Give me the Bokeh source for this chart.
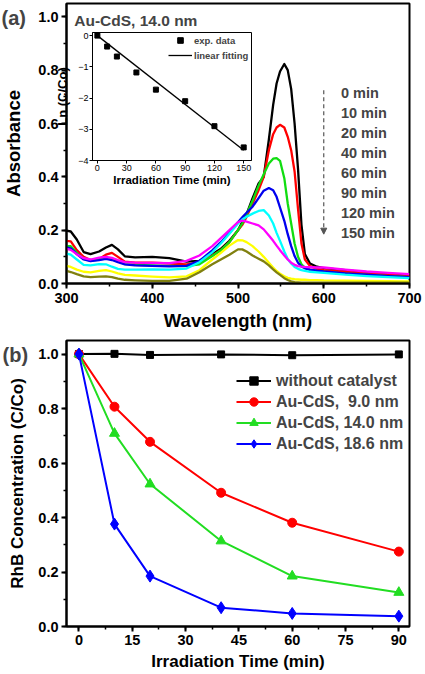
import numpy as np
from bokeh.plotting import figure
from bokeh.layouts import column
from bokeh.models import (Range1d, Label, Arrow, NormalHead, Legend, LegendItem,
                          SingleIntervalTicker, PrintfTickFormatter)
from bokeh.embed import file_html
from bokeh.resources import INLINE

FONT = "Liberation Sans"

# ---------------- (a) absorption spectra of RhB, Au-CdS 14.0 nm ----------------
wavelength = [300, 305, 312, 320, 328, 338, 346, 353, 360, 368, 380, 400, 420, 440,
              455, 470, 480, 490, 500, 505, 510, 517, 524, 530, 536, 541, 545, 549,
              554, 558, 562, 566, 570, 574, 578, 584, 592, 600, 625, 650, 675, 700]

abs_0min = [0.198, 0.195, 0.165, 0.118, 0.110, 0.120, 0.135, 0.145, 0.128, 0.102, 0.098,
            0.100, 0.095, 0.082, 0.085, 0.110, 0.130, 0.160, 0.200, 0.230, 0.260, 0.320,
            0.375, 0.400, 0.540, 0.670, 0.750, 0.795, 0.823, 0.800, 0.730, 0.600, 0.430,
            0.220, 0.110, 0.075, 0.063, 0.058, 0.050, 0.042, 0.035, 0.028]
abs_10min = [0.160, 0.158, 0.125, 0.100, 0.088, 0.092, 0.108, 0.115, 0.100, 0.082, 0.078,
             0.078, 0.075, 0.072, 0.078, 0.105, 0.125, 0.155, 0.200, 0.220, 0.250, 0.300,
             0.350, 0.400, 0.500, 0.560, 0.585, 0.595, 0.585, 0.550, 0.500, 0.420, 0.280,
             0.150, 0.090, 0.065, 0.055, 0.050, 0.044, 0.038, 0.033, 0.028]
abs_20min = [0.140, 0.140, 0.115, 0.092, 0.086, 0.090, 0.095, 0.092, 0.085, 0.073, 0.070,
             0.068, 0.066, 0.065, 0.072, 0.103, 0.125, 0.155, 0.200, 0.225, 0.260, 0.310,
             0.367, 0.410, 0.450, 0.468, 0.470, 0.460, 0.395, 0.300, 0.225, 0.150, 0.100,
             0.072, 0.060, 0.052, 0.047, 0.044, 0.037, 0.032, 0.028, 0.024]
abs_40min = [0.135, 0.132, 0.110, 0.090, 0.084, 0.088, 0.092, 0.088, 0.080, 0.072, 0.068,
             0.066, 0.064, 0.066, 0.085, 0.124, 0.155, 0.190, 0.230, 0.248, 0.265, 0.288,
             0.320, 0.348, 0.358, 0.350, 0.325, 0.285, 0.235, 0.185, 0.140, 0.103, 0.078,
             0.064, 0.057, 0.052, 0.048, 0.045, 0.038, 0.033, 0.028, 0.024]
abs_60min = [0.112, 0.108, 0.090, 0.070, 0.068, 0.073, 0.072, 0.063, 0.055, 0.052, 0.052,
             0.053, 0.052, 0.056, 0.080, 0.117, 0.150, 0.187, 0.225, 0.240, 0.250, 0.262,
             0.272, 0.275, 0.255, 0.225, 0.190, 0.160, 0.120, 0.092, 0.075, 0.062, 0.055,
             0.050, 0.047, 0.044, 0.042, 0.040, 0.033, 0.028, 0.024, 0.020]
abs_90min = [0.130, 0.126, 0.110, 0.095, 0.090, 0.097, 0.100, 0.096, 0.088, 0.080, 0.078,
             0.077, 0.076, 0.085, 0.105, 0.140, 0.170, 0.200, 0.230, 0.236, 0.232, 0.225,
             0.218, 0.203, 0.180, 0.160, 0.142, 0.125, 0.105, 0.090, 0.078, 0.070, 0.065,
             0.063, 0.062, 0.061, 0.060, 0.060, 0.052, 0.045, 0.040, 0.035]
abs_120min = [0.066, 0.062, 0.052, 0.044, 0.042, 0.047, 0.050, 0.045, 0.038, 0.032, 0.030,
              0.026, 0.023, 0.027, 0.050, 0.090, 0.115, 0.142, 0.163, 0.162, 0.155, 0.140,
              0.120, 0.100, 0.078, 0.060, 0.047, 0.037, 0.027, 0.021, 0.018, 0.016, 0.015,
              0.014, 0.014, 0.013, 0.013, 0.012, 0.011, 0.010, 0.009, 0.008]
abs_150min = [0.047, 0.043, 0.035, 0.027, 0.024, 0.026, 0.027, 0.024, 0.018, 0.014, 0.012,
              0.010, 0.010, 0.018, 0.042, 0.072, 0.090, 0.108, 0.128, 0.128, 0.120, 0.105,
              0.093, 0.083, 0.068, 0.053, 0.042, 0.032, 0.020, 0.013, 0.008, 0.005, 0.004,
              0.003, 0.003, 0.003, 0.003, 0.003, 0.003, 0.003, 0.003, 0.003]

spectra = [abs_0min, abs_10min, abs_20min, abs_40min,
           abs_60min, abs_90min, abs_120min, abs_150min]
time_labels = ["0 min", "10 min", "20 min", "40 min",
               "60 min", "90 min", "120 min", "150 min"]
spectra_colors = ["#000000", "#ff0000", "#11dd11", "#0000ee",
                  "#00ffff", "#ff00ff", "#ffff00", "#808010"]

# inset: first-order kinetics
inset_time = [0, 10, 20, 40, 60, 90, 120, 150]
inset_ln = [0.0, -0.35, -0.67, -1.18, -1.73, -2.10, -2.90, -3.58]

# ---------------- (b) degradation of RhB ----------------
irr_time = [0, 10, 20, 40, 60, 90]
c_blank = [1.0, 1.001, 0.997, 0.999, 0.996, 0.999]
c_90nm = [1.0, 0.807, 0.678, 0.491, 0.381, 0.275]
c_140nm = [1.0, 0.709, 0.523, 0.314, 0.185, 0.125]
c_186nm = [1.0, 0.376, 0.185, 0.069, 0.048, 0.038]
series_labels = ["without catalyst", "Au-CdS,  9.0 nm", "Au-CdS, 14.0 nm", "Au-CdS, 18.6 nm"]
series_colors = ["#000000", "#ff0000", "#22dd22", "#0000ff"]
series_markers = ["square", "circle", "triangle", "diamond"]
series_sizes = [7, 9, 10, 12]


def style_axes(p, tick_px, label_px):
    for ax in p.axis:
        ax.axis_line_width = 2
        ax.major_tick_line_width = 2
        ax.minor_tick_line_width = 1.5
        ax.major_tick_out = 5
        ax.major_tick_in = 0
        ax.minor_tick_out = 3
        ax.minor_tick_in = 0
        ax.major_label_text_font = FONT
        ax.major_label_text_font_style = "bold"
        ax.major_label_text_font_size = f"{tick_px}px"
        ax.major_label_text_color = "black"
        ax.axis_label_text_font = FONT
        ax.axis_label_text_font_style = "bold"
        ax.axis_label_text_font_size = f"{label_px}px"
        ax.axis_label_text_color = "black"
    p.yaxis.formatter = PrintfTickFormatter(format="%.1f")
    p.outline_line_color = "black"
    p.outline_line_width = 2
    p.grid.visible = False


def panel_tag(text, left, top):
    """Small transparent canvas holding a panel letter, placed over the page."""
    t = figure(width=34, height=26, x_range=Range1d(0, 1), y_range=Range1d(0, 1),
               output_backend="svg", toolbar_location=None, min_border=0,
               x_axis_location=None, y_axis_location=None,
               background_fill_alpha=0, border_fill_alpha=0, outline_line_color=None,
               styles={"position": "absolute", "left": f"{left}px", "top": f"{top}px"})
    t.grid.visible = False
    t.add_layout(Label(x=0, y=13, x_units="screen", y_units="screen", text=text,
                       text_font=FONT, text_font_style="bold", text_font_size="20px",
                       text_baseline="middle"))
    return t


# ---------- panel (a) ----------
pa = figure(width=425, height=336, x_range=Range1d(300, 700), y_range=Range1d(0, 1.05),
            output_backend="svg", toolbar_location=None,
            min_border_left=62, min_border_right=16, min_border_top=3, min_border_bottom=53,
            x_axis_label="Wavelength (nm)", y_axis_label="Absorbance")
style_axes(pa, 14.5, 18.5)
pa.xaxis.ticker = SingleIntervalTicker(interval=100, num_minor_ticks=2)
pa.yaxis.ticker = SingleIntervalTicker(interval=0.2, num_minor_ticks=2)
pa.xaxis.major_label_standoff = 4
pa.xaxis.axis_label_standoff = 4
pa.yaxis.major_label_standoff = 3
pa.yaxis.axis_label_standoff = 11

for vals, col in zip(spectra, spectra_colors):
    pa.line(wavelength, vals, line_color=col, line_width=2.3, line_join="round")

pa.add_layout(Label(x=309, y=0.985, text="Au-CdS, 14.0 nm", text_font=FONT,
                    text_font_style="bold", text_font_size="15.5px", text_baseline="middle"))

label_x, label_top, label_step = 620, 0.715, 0.075
for i, lab in enumerate(time_labels):
    pa.add_layout(Label(x=label_x, y=label_top - i * label_step, text=lab, text_font=FONT,
                        text_font_style="bold", text_font_size="14.5px",
                        text_baseline="middle"))

pa.add_layout(Arrow(x_start=600, y_start=label_top + 0.01, x_end=600,
                    y_end=label_top - 7 * label_step - 0.005,
                    line_color="#555555", line_width=1.2, line_dash="4 3",
                    end=NormalHead(size=6, fill_color="#555555", line_color="#555555")))

# ---------- inset ----------
inset = figure(width=205, height=162, x_range=Range1d(-5, 158), y_range=Range1d(-4, 0.1),
               output_backend="svg", toolbar_location=None,
               min_border_left=42, min_border_right=4, min_border_top=4, min_border_bottom=30,
               x_axis_label="Irradiation Time (min)", y_axis_label="Ln (C/Co)",
               background_fill_alpha=0, border_fill_alpha=0,
               styles={"position": "absolute", "left": "50px", "top": "28px"})
for ax in inset.axis:
    ax.axis_line_width = 1
    ax.major_tick_line_width = 1
    ax.major_tick_out = 3
    ax.major_tick_in = 0
    ax.minor_tick_line_color = None
    ax.major_label_text_font = FONT
    ax.major_label_text_font_size = "9px"
    ax.major_label_text_color = "black"
    ax.major_label_standoff = 1
    ax.axis_label_text_font = FONT
    ax.axis_label_text_font_style = "bold"
    ax.axis_label_text_color = "black"
    ax.axis_label_standoff = 0
inset.yaxis.axis_label_standoff = 5
inset.xaxis.axis_label_text_font_size = "11.5px"
inset.yaxis.axis_label_text_font_size = "13px"
inset.xaxis.ticker = SingleIntervalTicker(interval=30, num_minor_ticks=0)
inset.yaxis.ticker = SingleIntervalTicker(interval=1, num_minor_ticks=0)
inset.outline_line_color = "black"
inset.outline_line_width = 1
inset.grid.visible = False

t_arr = np.array(inset_time, dtype=float)
ln_arr = np.array(inset_ln)
slope = float((t_arr * ln_arr).sum() / (t_arr ** 2).sum())   # fit through the origin
fit_t = [0, 150]
fit_ln = [slope * t for t in fit_t]

pts = inset.scatter(inset_time, inset_ln, marker="square", size=5, color="black")
fit = inset.line(fit_t, fit_ln, line_color="black", line_width=1.3)
inset_legend = Legend(items=[LegendItem(label="exp. data", renderers=[pts]),
                             LegendItem(label="linear fitting", renderers=[fit])],
                      location=(76, 98), padding=0, margin=0, spacing=1,
                      glyph_width=24, glyph_height=14, label_height=14, label_standoff=2,
                      border_line_alpha=0, background_fill_alpha=0,
                      label_text_font=FONT, label_text_font_size="9.5px",
                      label_text_font_style="bold")
inset.add_layout(inset_legend)

# ---------- panel (b) ----------
pb = figure(width=425, height=338, x_range=Range1d(-3.5, 93), y_range=Range1d(0, 1.05),
            output_backend="svg", toolbar_location=None,
            min_border_left=62, min_border_right=10, min_border_top=4, min_border_bottom=48,
            x_axis_label="Irradiation Time (min)", y_axis_label="RhB Concentration (C/Co)")
style_axes(pb, 14.5, 17)
pb.xaxis.ticker = SingleIntervalTicker(interval=15, num_minor_ticks=2)
pb.yaxis.ticker = SingleIntervalTicker(interval=0.2, num_minor_ticks=2)
pb.xaxis.major_label_standoff = 3
pb.xaxis.axis_label_standoff = 4
pb.yaxis.major_label_standoff = 3
pb.yaxis.axis_label_standoff = 8

items = []
for vals, lab, col, mk, sz in zip([c_blank, c_90nm, c_140nm, c_186nm], series_labels,
                                  series_colors, series_markers, series_sizes):
    ln = pb.line(irr_time, vals, line_color=col, line_width=2)
    sc = pb.scatter(irr_time, vals, marker=mk, size=sz, color=col)
    items.append(LegendItem(label=lab, renderers=[ln, sc]))

legend_b = Legend(items=items, location=(170, 172), padding=0, margin=0, spacing=0,
                  glyph_width=35, glyph_height=21, label_height=21, label_standoff=5,
                  border_line_alpha=0, background_fill_alpha=0,
                  label_text_font=FONT, label_text_font_size="16px",
                  label_text_font_style="bold")
pb.add_layout(legend_b)

tag_a = panel_tag("(a)", 1, 4)
tag_b = panel_tag("(b)", 2, 341)

page = column(pa, pb, spacing=0)
open("out.html", "w").write(file_html([page, inset, tag_a, tag_b], INLINE))
